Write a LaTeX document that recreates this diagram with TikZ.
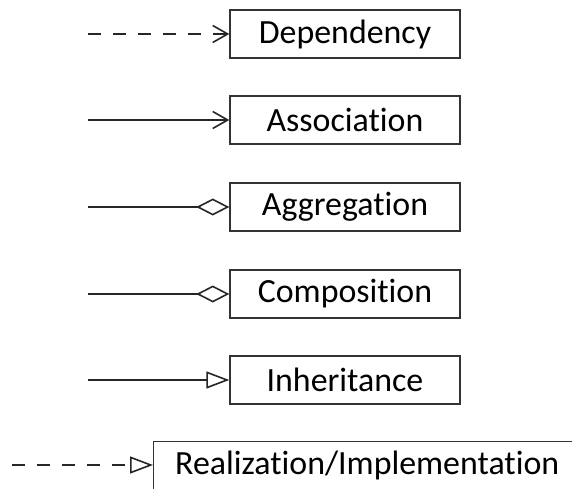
\documentclass[tikz,border=0pt]{standalone}
\usepackage{fontspec}
\setmainfont{Carlito}[Ligatures=NoCommon]
\usetikzlibrary{arrows.meta}
\begin{document}
\begin{tikzpicture}[x=1bp,y=-1bp,
  umlbox/.style={draw=black!80, line width=1.4bp, fill=white, minimum height=48bp,
    inner sep=0pt, font=\fontsize{34}{36}\selectfont, text=black},
  stdbox/.style={umlbox, minimum width=230bp},
  conn/.style={line width=1.6bp, draw=black!85},
  dep/.style={conn, dash pattern=on 13bp off 12bp},
  barb/.style={-{Straight Barb[length=15bp, width=17bp, line width=1.6bp]}},
  diam/.style={-{Diamond[open, length=33bp, width=17bp, line width=1.6bp]}},
  tri/.style={-{Triangle[open, length=23bp, width=17bp, line width=1.6bp]}}]
  \clip (0,0) rectangle (572,489);
  \fill[white] (0,0) rectangle (572,489);

  % class boxes
  \node[stdbox] (dep)  at (345,34)  {Dependency};
  \node[stdbox] (assoc) at (345,120) {Association};
  \node[stdbox] (aggr) at (345,207) {Aggregation};
  \node[stdbox] (comp) at (345,294) {Composition};
  \node[stdbox] (inh)  at (345,380) {Inheritance};
  \node[umlbox, anchor=north west, minimum width=440bp, minimum height=60bp] (real) at (153,441) {};
  \node[font=\fontsize{34}{36}\selectfont, anchor=west, inner sep=0pt] (realtxt) at (175,465) {Realization/Implementation};

  % free ends of the connectors
  \coordinate (s1) at (88,34);
  \coordinate (s2) at (88,120);
  \coordinate (s3) at (88,207);
  \coordinate (s4) at (88,294);
  \coordinate (s5) at (88,380);
  \coordinate (s6) at (12,465);

  \draw[dep, barb] (s1) -- (dep.west);
  \draw[conn, barb] (s2) -- (assoc.west);
  \draw[conn, diam] (s3) -- (aggr.west);
  \draw[conn, diam] (s4) -- (comp.west);
  \draw[conn, tri] (s5) -- (inh.west);
  \draw[dep, tri] (s6) -- (real.west |- s6);
\end{tikzpicture}
\end{document}
